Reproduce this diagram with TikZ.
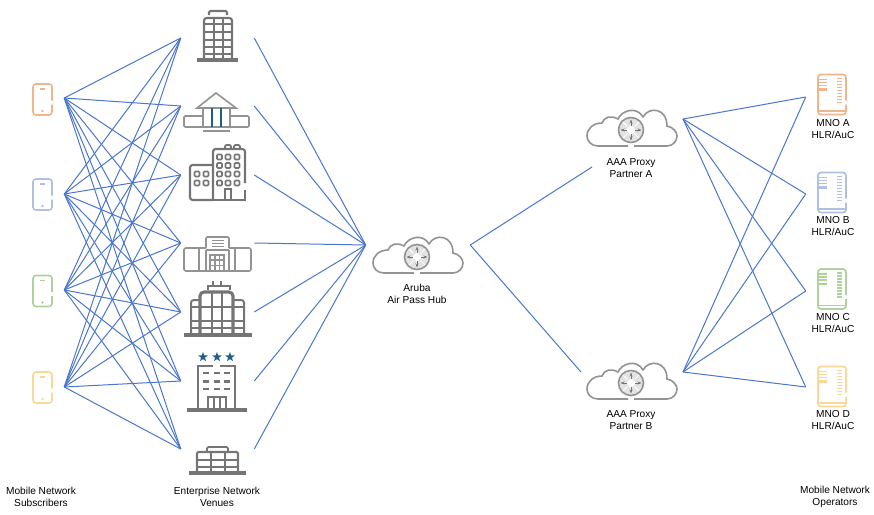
\documentclass[tikz,border=0pt]{standalone}
\usepackage{fontspec}
\setmainfont{Liberation Sans}
\usetikzlibrary{shapes.geometric,arrows.meta}
\definecolor{linkblue}{HTML}{4A76CC}
\definecolor{icongray}{HTML}{757575}
\definecolor{paleicon}{HTML}{939393}
\definecolor{starblue}{HTML}{1F5F8B}
\definecolor{cOrange}{HTML}{F2B48A}
\definecolor{cBlue}{HTML}{AFC0E2}
\definecolor{cGreen}{HTML}{AFD29A}
\definecolor{cYellow}{HTML}{F9D898}
\tikzset{
    port/.style = {inner sep=0pt, minimum height=0pt, minimum width=#1*0.75pt},
    link/.style = {draw=linkblue, line width=0.75pt},
    label/.style = {align=center, inner sep=0pt, font=\fontsize{7.6}{9}\selectfont},
    ico/.style = {draw=icongray, line width=1.6pt},
    thin ico/.style = {draw=paleicon, line width=1.2pt},
    pics/handset/.style = {code={
        \draw[draw=#1, line width=1.2pt, rounded corners=2.2pt]
            (9.5,5) -- (9.5,15.5) -- (-9.5,15.5) -- (-9.5,-15.5) -- (9.5,-15.5) -- (9.5,1);
        \draw[draw=#1, line width=1.2pt] (-2.5,-10.5) -- (2.5,-10.5);
        \fill[#1] (0,11.5) circle (1.3);
    }},
    pics/server/.style = {code={
        \draw[draw=#1, line width=1.3pt, rounded corners=2.2pt]
            (14,10) -- (14,20) -- (-14,20) -- (-14,-20) -- (14,-20) -- (14,6);
        \draw[draw=#1, line width=1.1pt] (-14,16.5) -- (14,16.5);
        \foreach \y in {-15,-12,-9} \draw[draw=#1, line width=1.1pt] (-13,\y) -- (-5,\y);
        \draw[draw=#1, line width=1.6pt] (-13,-5) -- (-5,-5);
        \foreach \y in {-16,-13,...,8} \draw[draw=#1, line width=1.2pt] (5,\y) -- (10,\y);
    }},
    pics/cloud/.style = {code={
        \draw[draw=paleicon, line width=1.2pt] (-3,16) -- (-33,16)
            .. controls (-40,16) and (-44,11) .. (-44,6)
            .. controls (-44,-2) and (-37,-7) .. (-29,-7)
            .. controls (-27,-13) and (-20,-15) .. (-13,-11)
            .. controls (-9,-20) and (6,-24) .. (12,-13)
            .. controls (18,-24) and (36,-22) .. (36,-4)
            .. controls (42,-3) and (46,2) .. (46,6)
            .. controls (46,11) and (42,16) .. (36,16) -- (3,16);
        \draw[draw=paleicon, line width=1.2pt, fill=gray!22] (0,0) circle (12.5);
        \fill[white] (0,-5) -- (5,0) -- (0,5) -- (-5,0) -- cycle;
        \foreach \a in {0,90,180,270} {
            \draw[draw=icongray, line width=0.5pt, -{Stealth[length=3pt]}] (\a:4) -- (\a:10.5);
            \draw[draw=white, line width=0.7pt] (\a+45:5) -- (\a+45:11);
        }
    }},
    pics/tower/.style = {code={
        \draw[ico, rounded corners=2pt] (204,60) -- (204,18) -- (232,18) -- (232,60);
        \draw[ico, rounded corners=1pt] (209,15) -- (209,11) -- (227,11) -- (227,15);
        \draw[ico, line width=2.4pt] (197,60) -- (238,60);
        \foreach \x in {214,223} \draw[ico, line width=1.1pt] (\x,18) -- (\x,60);
        \foreach \y in {24,32,40,47,54} \draw[ico, line width=1.1pt] (204,\y) -- (232,\y);
    }},
    pics/bank/.style = {code={
        \draw[thin ico] (197,108) -- (216,93) -- (236,108) -- cycle;
        \draw[thin ico, rounded corners=1pt] (203,116) -- (184,116) -- (184,127) -- (249,127) -- (249,116) -- (230,116);
        \draw[thin ico] (203,108) -- (203,127) (230,108) -- (230,127);
        \draw[starblue, line width=1.8pt] (212,108) -- (212,127) (221,108) -- (221,127);
        \draw[thin ico] (203,131) -- (230,131);
    }},
    pics/blocks/.style = {code={
        \draw[ico, rounded corners=2pt] (213,200) -- (190,200) -- (190,165) -- (213,165);
        \draw[ico, rounded corners=2pt] (213,200) -- (213,149) -- (245,149) -- (245,183);
        \draw[ico] (245,190) -- (245,200) -- (213,200);
        \draw[ico, line width=1.3pt, rounded corners=1pt] (225,149) -- (225,145) -- (231,145) -- (231,149);
        \draw[ico, line width=1.3pt, rounded corners=1pt] (234,149) -- (234,145) -- (240,145) -- (240,149);
        \draw[ico, line width=1.3pt] (225,200) -- (225,189) -- (231,189) -- (231,200);
        \foreach \x in {219.5,228,237} \foreach \y in {157,165.5,174,183}
            \draw[ico, line width=1.2pt, rounded corners=0.8pt] (\x-2.5,\y-2.5) rectangle (\x+2.5,\y+2.5);
        \foreach \x in {197,206} \foreach \y in {174,183}
            \draw[ico, line width=1.2pt, rounded corners=0.8pt] (\x-2.5,\y-2.5) rectangle (\x+2.5,\y+2.5);
    }},
    pics/terminal/.style = {code={
        \draw[thin ico, rounded corners=1pt] (206,248) -- (206,237) -- (229,237) -- (229,248);
        \draw[thin ico] (206,250) -- (229,250);
        \foreach \y in {240.5,243.5,246.5} \draw[thin ico, line width=0.8pt] (212,\y) -- (224,\y);
        \draw[thin ico, rounded corners=1.5pt] (206,248) -- (184,248) -- (184,271) -- (251,271) -- (251,248) -- (229,248);
        \draw[thin ico] (199,248) -- (199,271) (235,248) -- (235,271) (206,250) -- (206,271) (229,250) -- (229,271);
        \draw[thin ico, line width=0.9pt] (210,271) -- (210,255) -- (224,255) -- (224,271);
        \foreach \x in {215,219.5} \draw[thin ico, line width=0.8pt] (\x,255) -- (\x,271);
        \foreach \y in {260,265.5} \draw[thin ico, line width=0.8pt] (210,\y) -- (224,\y);
    }},
    pics/glass/.style = {code={
        \draw[ico, line width=1.2pt] (213,281) -- (213,286) (221,281) -- (221,286);
        \draw[ico, line width=1.2pt] (208,290) -- (208,286) -- (230,286) -- (230,290);
        \draw[ico, line width=2.3pt, rounded corners=3pt] (200,335) -- (200,292) -- (233,292) -- (233,335);
        \draw[ico, line width=1.5pt, rounded corners=2pt] (200,300) -- (191,300) -- (191,335) (233,300) -- (244,300) -- (244,335);
        \foreach \x in {212,222} \draw[ico, line width=1.4pt] (\x,292) -- (\x,335);
        \foreach \y in {307,321,328} \draw[ico, line width=1.4pt] (191,\y) -- (244,\y);
        \draw[ico, line width=2.6pt] (184,335) -- (252,335);
    }},
    pics/hotel/.style = {code={
        \foreach \x [count=\n] in {203,217,230}
            \node[star, star points=5, star point ratio=2.4, fill=starblue, inner sep=0pt, minimum size=7.5pt] (star\n) at (\x,357) {};
        \draw[ico] (213,366) -- (198,366) -- (198,410) (220,366) -- (235,366) -- (235,410);
        \foreach \x in {206,217,227} \foreach \y in {373,381.5,389}
            \draw[ico, line width=1.7pt] (\x-3,\y) -- (\x+3,\y);
        \draw[ico] (208,410) -- (208,397) -- (226,397) -- (226,410);
        \foreach \x in {214,220} \draw[ico] (\x,397) -- (\x,410);
        \draw[ico, line width=2.6pt] (187,410) -- (247,410);
    }},
    pics/lowrise/.style = {code={
        \draw[ico, line width=1.3pt, rounded corners=1pt] (207,451) -- (207,447) -- (228,447) -- (228,451);
        \draw[ico, rounded corners=1pt] (197,473) -- (197,452) -- (238,452) -- (238,473);
        \foreach \y in {460,467} \draw[ico, line width=1.2pt] (197,\y) -- (238,\y);
        \foreach \x in {211,225} \draw[ico, line width=1.4pt] (\x,452) -- (\x,473);
        \draw[ico, line width=2.6pt] (189,473) -- (246,473);
    }},
}
\begin{document}
\begin{tikzpicture}[x=0.75pt, y=-0.75pt]
    \useasboundingbox (0,0) rectangle (874,514);

    \pic at (42.5,99.5) {handset=cOrange};
    \pic at (42.5,194.5) {handset=cBlue};
    \pic at (42.5,291) {handset=cGreen};
    \pic at (42.5,387.5) {handset=cYellow};
    \pic {tower};
    \pic {bank};
    \pic {blocks};
    \pic {terminal};
    \pic {glass};
    \pic {hotel};
    \pic {lowrise};
    \pic at (417,257) {cloud};
    \pic at (631,130) {cloud};
    \pic at (631,383) {cloud};
    \pic at (832,94.5) {server=cOrange};
    \pic at (832,192.5) {server=cBlue};
    \pic at (832,289) {server=cGreen};
    \pic at (832,386.5) {server=cYellow};

    \node[port=43] (sub1) at (42.5,98) {};
    \node[port=43] (sub2) at (42.5,194) {};
    \node[port=43] (sub3) at (42.5,290) {};
    \node[port=43] (sub4) at (42.5,387) {};
    \node[port=73] (ven1) at (217.5,38) {};
    \node[port=73] (ven2) at (217.5,106) {};
    \node[port=73] (ven3) at (217.5,175) {};
    \node[port=73] (ven4) at (217.5,243) {};
    \node[port=73] (ven5) at (217.5,312) {};
    \node[port=73] (ven6) at (217.5,381) {};
    \node[port=73] (ven7) at (217.5,449) {};
    \node[port=104] (hub) at (418,245) {};
    \coordinate (proxyAin) at (592,167);
    \coordinate (proxyBin) at (581,372);
    \coordinate (proxyAout) at (683,119);
    \coordinate (proxyBout) at (683,372);
    \node[port=54] (mno1) at (833,97) {};
    \node[port=54] (mno2) at (833,194) {};
    \node[port=54] (mno3) at (833,291) {};
    \node[port=54] (mno4) at (833,387) {};

    \foreach \s in {1,...,4} \foreach \v in {1,...,7} \draw[link] (sub\s.east) -- (ven\v.west);
    \foreach \v in {1,...,7} \draw[link] (ven\v.east) -- (hub.west);
    \draw[link] (hub.east) -- (proxyAin);
    \draw[link] (hub.east) -- (proxyBin);
    \foreach \m in {1,...,4} {
        \draw[link] (proxyAout) -- (mno\m.west);
        \draw[link] (proxyBout) -- (mno\m.west);
    }

    \node[label] (hubtext) at (417,294) {Aruba\\Air Pass Hub};
    \node[label] (proxyAtext) at (631,168) {AAA Proxy\\Partner A};
    \node[label] (proxyBtext) at (631,420) {AAA Proxy\\Partner B};
    \node[label] (mno1text) at (833,129) {MNO A\\HLR/AuC};
    \node[label] (mno2text) at (833,226.5) {MNO B\\HLR/AuC};
    \node[label] (mno3text) at (833,323) {MNO C\\HLR/AuC};
    \node[label] (mno4text) at (833,420) {MNO D\\HLR/AuC};
    \node[label] (subtext) at (41,497) {Mobile Network\\Subscribers};
    \node[label] (ventext) at (217,497) {Enterprise Network\\Venues};
    \node[label] (optext) at (835,497) {Mobile Network\\Operators};
\end{tikzpicture}
\end{document}
